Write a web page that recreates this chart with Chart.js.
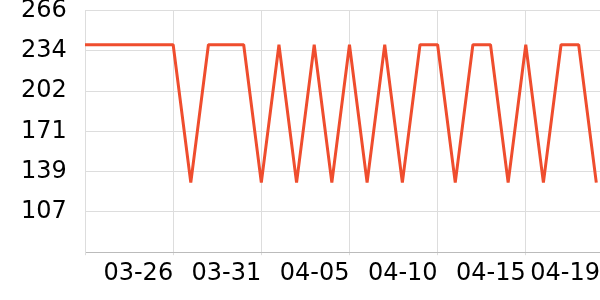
<!DOCTYPE html>
<html>
<head>
<meta charset="utf-8">
<script src="https://cdn.jsdelivr.net/npm/chart.js@4/dist/chart.umd.min.js"></script>
<style>
html,body{margin:0;padding:0;background:#fff}
</style>
</head>
<body>
<canvas id="c" width="600" height="300"></canvas>
<script>
// daily values, 03-21 .. 04-19
const dates = [
'03-21','03-22','03-23','03-24','03-25','03-26','03-27','03-28','03-29','03-30','03-31',
'04-01','04-02','04-03','04-04','04-05','04-06','04-07','04-08','04-09','04-10',
'04-11','04-12','04-13','04-14','04-15','04-16','04-17','04-18','04-19'
]
const values = [
239,239,239,239,239,239,130,239,239,239,130,
239,130,239,130,239,130,239,130,239,239,
130,239,239,130,239,130,239,239,130
]
// day indexes that get a grid line + label
const tickDays = [0, 5, 10, 15, 20, 25]

// x axis runs a bit past the last day, the last label sits at the end
const xMax = 29.21

// y axis range, 6 steps
const yMin = 75
const yMax = 266
const ySteps = 6

Chart.defaults.font.family = "'DejaVu Sans', sans-serif"

new Chart(document.getElementById('c'), {
type: 'line',
data: {
datasets: [{
data: values.map((v, i) => ({x: i, y: v})),
borderColor: '#ef4d2e',
borderWidth: 3,
borderJoinStyle: 'bevel',
pointRadius: 0,
tension: 0,
fill: false
}]
},
options: {
responsive: false,
animation: false,
devicePixelRatio: 1,
layout: {
padding: {left: 21, top: 0, right: 0, bottom: 8}
},
plugins: {
legend: {display: false},
tooltip: {enabled: false}
},
scales: {
x: {
type: 'linear',
min: 0,
max: xMax,
border: {color: '#bbb', width: 1},
afterBuildTicks: s => {
s.ticks = tickDays.concat([xMax]).map(v => ({value: v}))
},
// labels are right aligned, no side padding needed
afterFit: s => {
s.paddingLeft = 0
s.paddingRight = 0
},
grid: {
tickLength: 3,
color: ctx => ctx.tick && ctx.tick.value === xMax ? 'rgba(0,0,0,0)' : '#ddd'
},
ticks: {
autoSkip: false,
maxRotation: 0,
align: 'end',
padding: 4,
color: '#000',
font: {size: 24},
callback: v => {
if (v === xMax) return dates[dates.length - 1]
if (v === 0) return ''
return dates[v]
}
}
},
y: {
min: yMin,
max: yMax,
border: {color: '#ddd'},
grid: {color: '#ddd', drawTicks: false},
ticks: {
stepSize: (yMax - yMin) / ySteps,
padding: 9.1,
color: '#000',
font: {size: 24, lineHeight: 0.12},
crossAlign: 'far',
callback: v => v < yMin + 1 ? '' : Math.round(v)
}
}
}
}
})
</script>
</body>
</html>
